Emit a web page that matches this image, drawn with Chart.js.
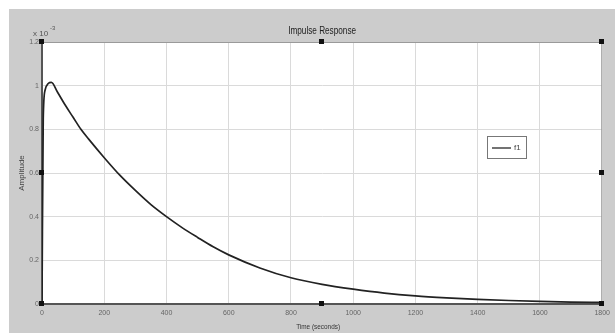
<!DOCTYPE html>
<html>
<head>
<meta charset="utf-8">
<script src="https://cdn.jsdelivr.net/npm/chart.js@4"></script>
<style>
  html, body { margin: 0; padding: 0; background: #fff; }
  #wrap { width: 615px; height: 333px; position: relative; }
</style>
</head>
<body>
<div id="wrap"><canvas id="myChart" width="615" height="333"></canvas></div>
<script>
// sample index (time axis) and amplitude in units of 10^-3
const samples = [0, 4, 10, 20, 30, 50, 75, 100, 125, 150, 200, 250, 300, 350, 400, 450, 500, 550, 600, 700, 800, 900, 1000, 1100, 1200, 1300, 1400, 1500, 1600, 1700, 1800];
const amps = [0, 0.85, 0.98, 1.01, 1.015, 0.97, 0.91, 0.855, 0.8, 0.755, 0.67, 0.59, 0.52, 0.455, 0.4, 0.35, 0.305, 0.262, 0.225, 0.165, 0.12, 0.09, 0.068, 0.05, 0.037, 0.028, 0.021, 0.016, 0.012, 0.009, 0.007];
const seriesName = 'f1';
const xTicks = [0, 200, 400, 600, 800, 1000, 1200, 1400, 1600, 1800];
const yTicks = [0, 0.2, 0.4, 0.6, 0.8, 1, 1.2];

const ctx = document.getElementById('myChart').getContext('2d');
const narrow = "'Liberation Sans Narrow', 'Liberation Sans', sans-serif";

// draw text squeezed horizontally, the original uses a condensed face
const squeezed = (c, text, x, y, sx) => {
	c.save();
	c.translate(x, y);
	c.scale(sx, 1);
	c.fillText(text, 0, 0);
	c.restore();
};

const figure = {
	id: 'figure',
	beforeDraw(chart) {
		const c = chart.ctx;
		const a = chart.chartArea;
		c.save();
		c.fillStyle = '#cccccc';
		c.fillRect(9, 9, chart.width - 9, chart.height - 9);
		c.fillStyle = '#ffffff';
		c.fillRect(a.left, a.top, a.right - a.left, a.bottom - a.top);
		c.restore();
	},
	afterDraw(chart) {
		const c = chart.ctx;
		const a = chart.chartArea;
		const midX = (a.left + a.right) / 2;
		const midY = (a.top + a.bottom) / 2;
		c.save();
		// box edges
		c.strokeStyle = '#9a9a9a';
		c.lineWidth = 1;
		c.beginPath();
		c.moveTo(a.left, a.top + 0.5);
		c.lineTo(a.right - 0.5, a.top + 0.5);
		c.lineTo(a.right - 0.5, a.bottom);
		c.stroke();

		// title
		c.fillStyle = '#222';
		c.font = '10px ' + narrow;
		c.textAlign = 'center';
		c.textBaseline = 'middle';
		squeezed(c, 'Impulse Response', midX, 31, 0.82);

		// x label
		c.fillStyle = '#333';
		c.font = '8px ' + narrow;
		squeezed(c, 'Time (seconds)', midX - 4, 327, 0.8);

		// exponent
		c.fillStyle = '#555';
		c.textAlign = 'left';
		c.font = '8px ' + narrow;
		c.fillText('x 10', 33, 34);
		c.font = '6px ' + narrow;
		c.fillText('-3', 50, 28);

		// legend
		const lx = 487, ly = 136, lw = 39, lh = 22;
		c.fillStyle = '#fff';
		c.fillRect(lx, ly, lw, lh);
		c.strokeStyle = '#777';
		c.lineWidth = 1;
		c.strokeRect(lx + 0.5, ly + 0.5, lw, lh);
		c.strokeStyle = '#444';
		c.lineWidth = 1.5;
		c.beginPath();
		c.moveTo(lx + 5, ly + 12);
		c.lineTo(lx + 24, ly + 12);
		c.stroke();
		c.fillStyle = '#444';
		c.font = '8px ' + narrow;
		c.fillText(seriesName, lx + 27, ly + 12);

		// selection handles
		c.fillStyle = '#111';
		const pts = [
			[a.left, a.top], [midX, a.top], [a.right, a.top],
			[a.left, midY], [a.right, midY],
			[a.left, a.bottom], [midX, a.bottom], [a.right, a.bottom],
		];
		for (let p of pts) {
			c.fillRect(Math.round(p[0]) - 3, Math.round(p[1]) - 3, 5, 5);
		}
		c.restore();
	},
};

const config = {
	type: 'line',
	data: {
		datasets: [
			{
				label: seriesName,
				data: samples.map((s, i) => ({ x: s, y: amps[i] })),
				borderColor: '#222',
				borderWidth: 1.7,
				pointRadius: 0,
				fill: false,
				cubicInterpolationMode: 'monotone',
			},
		],
	},
	options: {
		responsive: false,
		animation: false,
		layout: { padding: { left: 9, top: 42, right: 12, bottom: 0 } },
		plugins: {
			legend: { display: false },
			title: { display: false },
			tooltip: { enabled: false },
		},
		scales: {
			x: {
				type: 'linear',
				min: 0,
				max: 1800,
				afterBuildTicks: (scale) => {
					scale.ticks = xTicks.map((v) => ({ value: v }));
				},
				afterFit: (scale) => {
					scale.height = 29;
				},
				grid: { color: '#dadada', drawTicks: false },
				border: { color: '#555', width: 2 },
				ticks: {
					color: '#666',
					font: { family: narrow, size: 7 },
					padding: 5,
					maxRotation: 0,
					callback: (v) => String(v),
				},
			},
			y: {
				min: 0,
				max: 1.2,
				afterBuildTicks: (scale) => {
					scale.ticks = yTicks.map((v) => ({ value: v }));
				},
				afterFit: (scale) => {
					scale.width = 33;
				},
				grid: { color: '#dadada', drawTicks: false },
				border: { color: '#555', width: 2 },
				ticks: {
					color: '#666',
					font: { family: narrow, size: 7 },
					padding: 3,
					callback: (v) => String(Math.round(v * 10) / 10),
				},
				title: {
					display: true,
					text: 'Amplitude',
					color: '#444',
					font: { family: narrow, size: 8 },
					padding: { top: 8, bottom: 0 },
				},
			},
		},
	},
	plugins: [figure],
};

const myChart = new Chart(ctx, config);
</script>
</body>
</html>
